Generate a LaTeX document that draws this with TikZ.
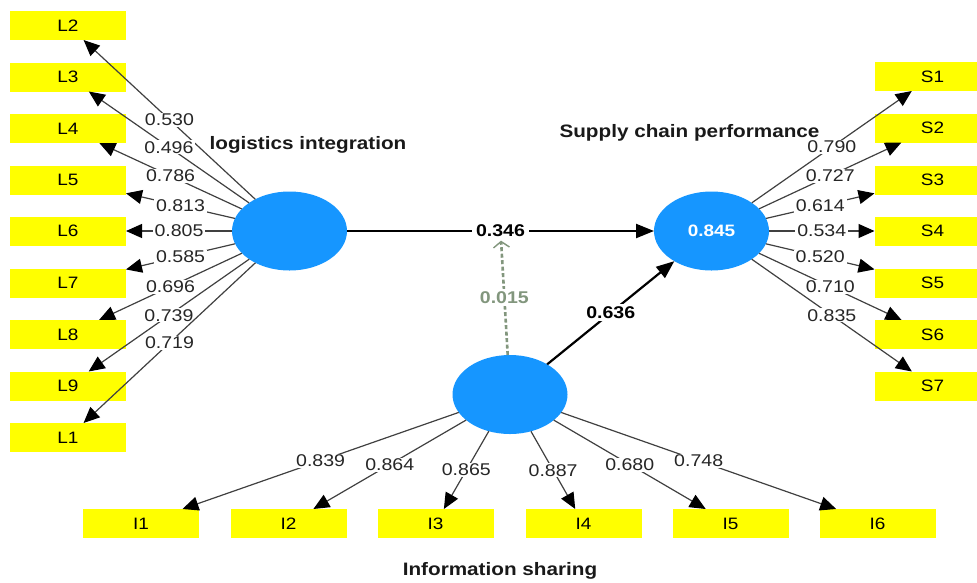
\documentclass[tikz,border=0pt]{standalone}
\usepackage{fontspec}
\setmainfont{Liberation Sans}[FakeStretch=1.15]
\usetikzlibrary{arrows.meta,shapes.geometric}

\definecolor{latentblue}{RGB}{22,150,255}
\definecolor{itemyellow}{RGB}{255,255,0}
\definecolor{modgray}{RGB}{130,150,125}

\begin{document}
\begin{tikzpicture}
[x=1pt,y=-1pt,
latent/.style={ellipse,fill=latentblue,draw=none,minimum width=115pt,minimum height=79pt,inner sep=0pt,outer sep=0pt,text=white,font=\bfseries\fontsize{16.5}{18}\selectfont},
item/.style={rectangle,fill=itemyellow,draw=none,minimum width=116pt,minimum height=29pt,inner sep=0pt,outer sep=0pt,font=\fontsize{16.5}{18}\selectfont},
load/.style={draw=black!75,line width=1.2pt,-{Triangle[length=16pt,width=14pt,color=black]}},
path/.style={draw=black,line width=2.2pt,-{Triangle[length=18pt,width=14pt]}},
modpath/.style={draw=modgray,line width=2.6pt,dash pattern=on 4pt off 2.5pt,-{Straight Barb[length=6pt,width=16pt,line width=1.4pt]}},
val/.style={fill=white,inner xsep=2pt,inner ysep=1pt,text=black!85,font=\fontsize{17}{18}\selectfont},
pathval/.style={fill=white,inner xsep=4pt,inner ysep=2.5pt,font=\bfseries\fontsize{17}{18}\selectfont},
title/.style={text=black!90,font=\bfseries\fontsize{18}{20}\selectfont}]
\useasboundingbox (0,0) rectangle (977,582);

% constructs
\node[latent] (LI) at (289.5,231) {};
\node[latent] (SCP) at (711.5,231) {0.845};
\node[latent] (IS) at (510,394.5) {};

\node[title] (LItitle) at (308,145) {logistics integration};
\node[title] (SCPtitle) at (689.5,133) {Supply chain performance};
\node[title] (IStitle) at (500,571) {Information sharing};

% logistics items
\node[item] (L2) at (68,25.5) {L2};
\node[item] (L3) at (68,77) {L3};
\node[item] (L4) at (68,128.5) {L4};
\node[item] (L5) at (68,180) {L5};
\node[item] (L6) at (68,231) {L6};
\node[item] (L7) at (68,283) {L7};
\node[item] (L8) at (68,334.5) {L8};
\node[item] (L9) at (68,386) {L9};
\node[item] (L1) at (68,437.5) {L1};

% supply chain items
\node[item] (S1) at (932.5,76.5) {S1};
\node[item] (S2) at (932.5,128) {S2};
\node[item] (S3) at (932.5,180) {S3};
\node[item] (S4) at (932.5,231) {S4};
\node[item] (S5) at (932.5,283) {S5};
\node[item] (S6) at (932.5,334.5) {S6};
\node[item] (S7) at (932.5,386) {S7};

% information sharing items
\node[item] (I1) at (141,523.5) {I1};
\node[item] (I2) at (288.5,523.5) {I2};
\node[item] (I3) at (435.5,523.5) {I3};
\node[item] (I4) at (583.5,523.5) {I4};
\node[item] (I5) at (730.5,523.5) {I5};
\node[item] (I6) at (877.5,523.5) {I6};

% outer loadings
\draw[load] (LI) -- node[val] {0.530} (L2);
\draw[load] (LI) -- node[val] {0.496} (L3);
\draw[load] (LI) -- node[val] {0.786} (L4);
\draw[load] (LI) -- node[val] {0.813} (L5);
\draw[load] (LI) -- node[val] {0.805} (L6);
\draw[load] (LI) -- node[val] {0.585} (L7);
\draw[load] (LI) -- node[val] {0.696} (L8);
\draw[load] (LI) -- node[val] {0.739} (L9);
\draw[load] (LI) -- node[val] {0.719} (L1);

\draw[load] (SCP) -- node[val] {0.790} (S1);
\draw[load] (SCP) -- node[val] {0.727} (S2);
\draw[load] (SCP) -- node[val] {0.614} (S3);
\draw[load] (SCP) -- node[val] {0.534} (S4);
\draw[load] (SCP) -- node[val] {0.520} (S5);
\draw[load] (SCP) -- node[val] {0.710} (S6);
\draw[load] (SCP) -- node[val] {0.835} (S7);

\draw[load] (IS) -- node[val] {0.839} (I1);
\draw[load] (IS) -- node[val] {0.864} (I2);
\draw[load] (IS) -- node[val] {0.865} (I3);
\draw[load] (IS) -- node[val] {0.887} (I4);
\draw[load] (IS) -- node[val] {0.680} (I5);
\draw[load] (IS) -- node[val] {0.748} (I6);

% inner paths
\draw[path] (LI) -- node[pathval] (p1) {0.346} (SCP);
\draw[path] (IS) -- node[pathval] {0.636} (SCP);
\draw[modpath] (IS) -- node[pathval,text=modgray] {0.015} (p1);

\end{tikzpicture}
\end{document}
